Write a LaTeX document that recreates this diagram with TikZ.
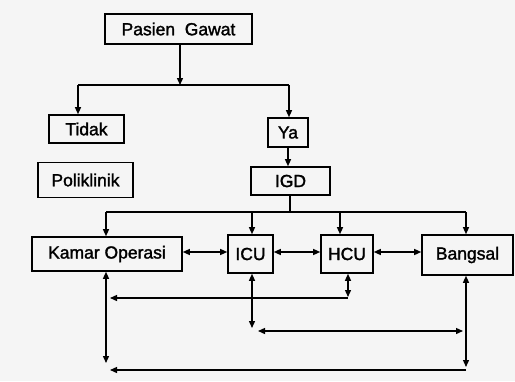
\documentclass[tikz,border=0pt]{standalone}
\usepackage{fontspec}
\setmainfont{Liberation Sans}
\newfontfamily\boxfont[FakeBold=1.6]{Liberation Sans}
\usetikzlibrary{arrows.meta}

\tikzset{
  box/.style={draw,line width=1.6pt,inner sep=0pt,font=\boxfont\fontsize{17.5}{19}\selectfont},
}

\begin{document}
\begin{tikzpicture}[x=1pt,y=-1pt,line width=1.3pt,>={Triangle[length=7pt,width=6pt]}]
    \fill[black!4] (0,0) rectangle (515,381);
    % boxes
    \node[box,minimum width=147pt,minimum height=30pt] (pasien) at (178.5,29) {Pasien\ \ Gawat};
    \node[box,minimum width=75pt,minimum height=28pt] (tidak) at (86.5,129) {Tidak};
    \node[box,minimum width=40pt,minimum height=29pt] (ya) at (288,132.5) {Ya};
    \node[box,minimum width=95pt,minimum height=35pt] (poli) at (85.5,180) {Poliklinik};
    \node[box,minimum width=79pt,minimum height=28pt] (igd) at (290.5,181) {IGD};
    \node[box,minimum width=150pt,minimum height=34pt] (kamar) at (107,254) {Kamar Operasi};
    \node[box,minimum width=45pt,minimum height=38pt] (icu) at (250.5,254) {ICU};
    \node[box,minimum width=52pt,minimum height=38pt] (hcu) at (347,254) {HCU};
    \node[box,minimum width=91pt,minimum height=40pt] (bangsal) at (467.5,255) {Bangsal};
    % Pasien Gawat -> Tidak / Ya
    \coordinate (split) at (180,85);
    \coordinate (tl) at (78,85);
    \coordinate (yl) at (289,85);
    \draw[->] (pasien.south -| split) -- (split);
    \draw (tl) -- (yl);
    \draw[->] (tl) -- (tl |- tidak.north);
    \draw[->] (yl) -- (yl |- ya.north);
    \draw[->] (ya.south) -- (ya.south |- igd.north);
    % IGD -> units
    \coordinate (dist) at (290,212);
    \coordinate (d1) at (106,212);
    \coordinate (d2) at (252,212);
    \coordinate (d3) at (340,212);
    \coordinate (d4) at (466,212);
    \draw (igd.south -| dist) -- (dist);
    \draw (d1) -- (d4);
    \draw[->] (d1) -- (d1 |- kamar.north);
    \draw[->] (d2) -- (d2 |- icu.north);
    \draw[->] (d3) -- (d3 |- hcu.north);
    \draw[->] (d4) -- (d4 |- bangsal.north);
    \coordinate (row) at (0,252);
    \draw[<->] (kamar.east |- row) -- (icu.west |- row);
    \draw[<->] (icu.east |- row) -- (hcu.west |- row);
    \draw[<->] (hcu.east |- row) -- (bangsal.west |- row);
    % lower links
    \coordinate (k1) at (106,363);
    \coordinate (h1) at (348,297);
    \coordinate (h2) at (110,298);
    \coordinate (i1) at (252,328);
    \coordinate (i2) at (258,331);
    \coordinate (i3) at (463,331);
    \coordinate (b1) at (466,367);
    \coordinate (b2) at (110,370);
    \draw[<->] (kamar.south -| k1) -- (k1);
    \draw[<->] (hcu.south -| h1) -- (h1);
    \draw[->] (h1 |- h2) -- (h2);
    \draw[<->] (icu.south -| i1) -- (i1);
    \draw[<->] (i2) -- (i3);
    \draw[<->] (bangsal.south -| b1) -- (b1);
    \draw[->] (b1 |- b2) -- (b2);
\end{tikzpicture}
\end{document}
